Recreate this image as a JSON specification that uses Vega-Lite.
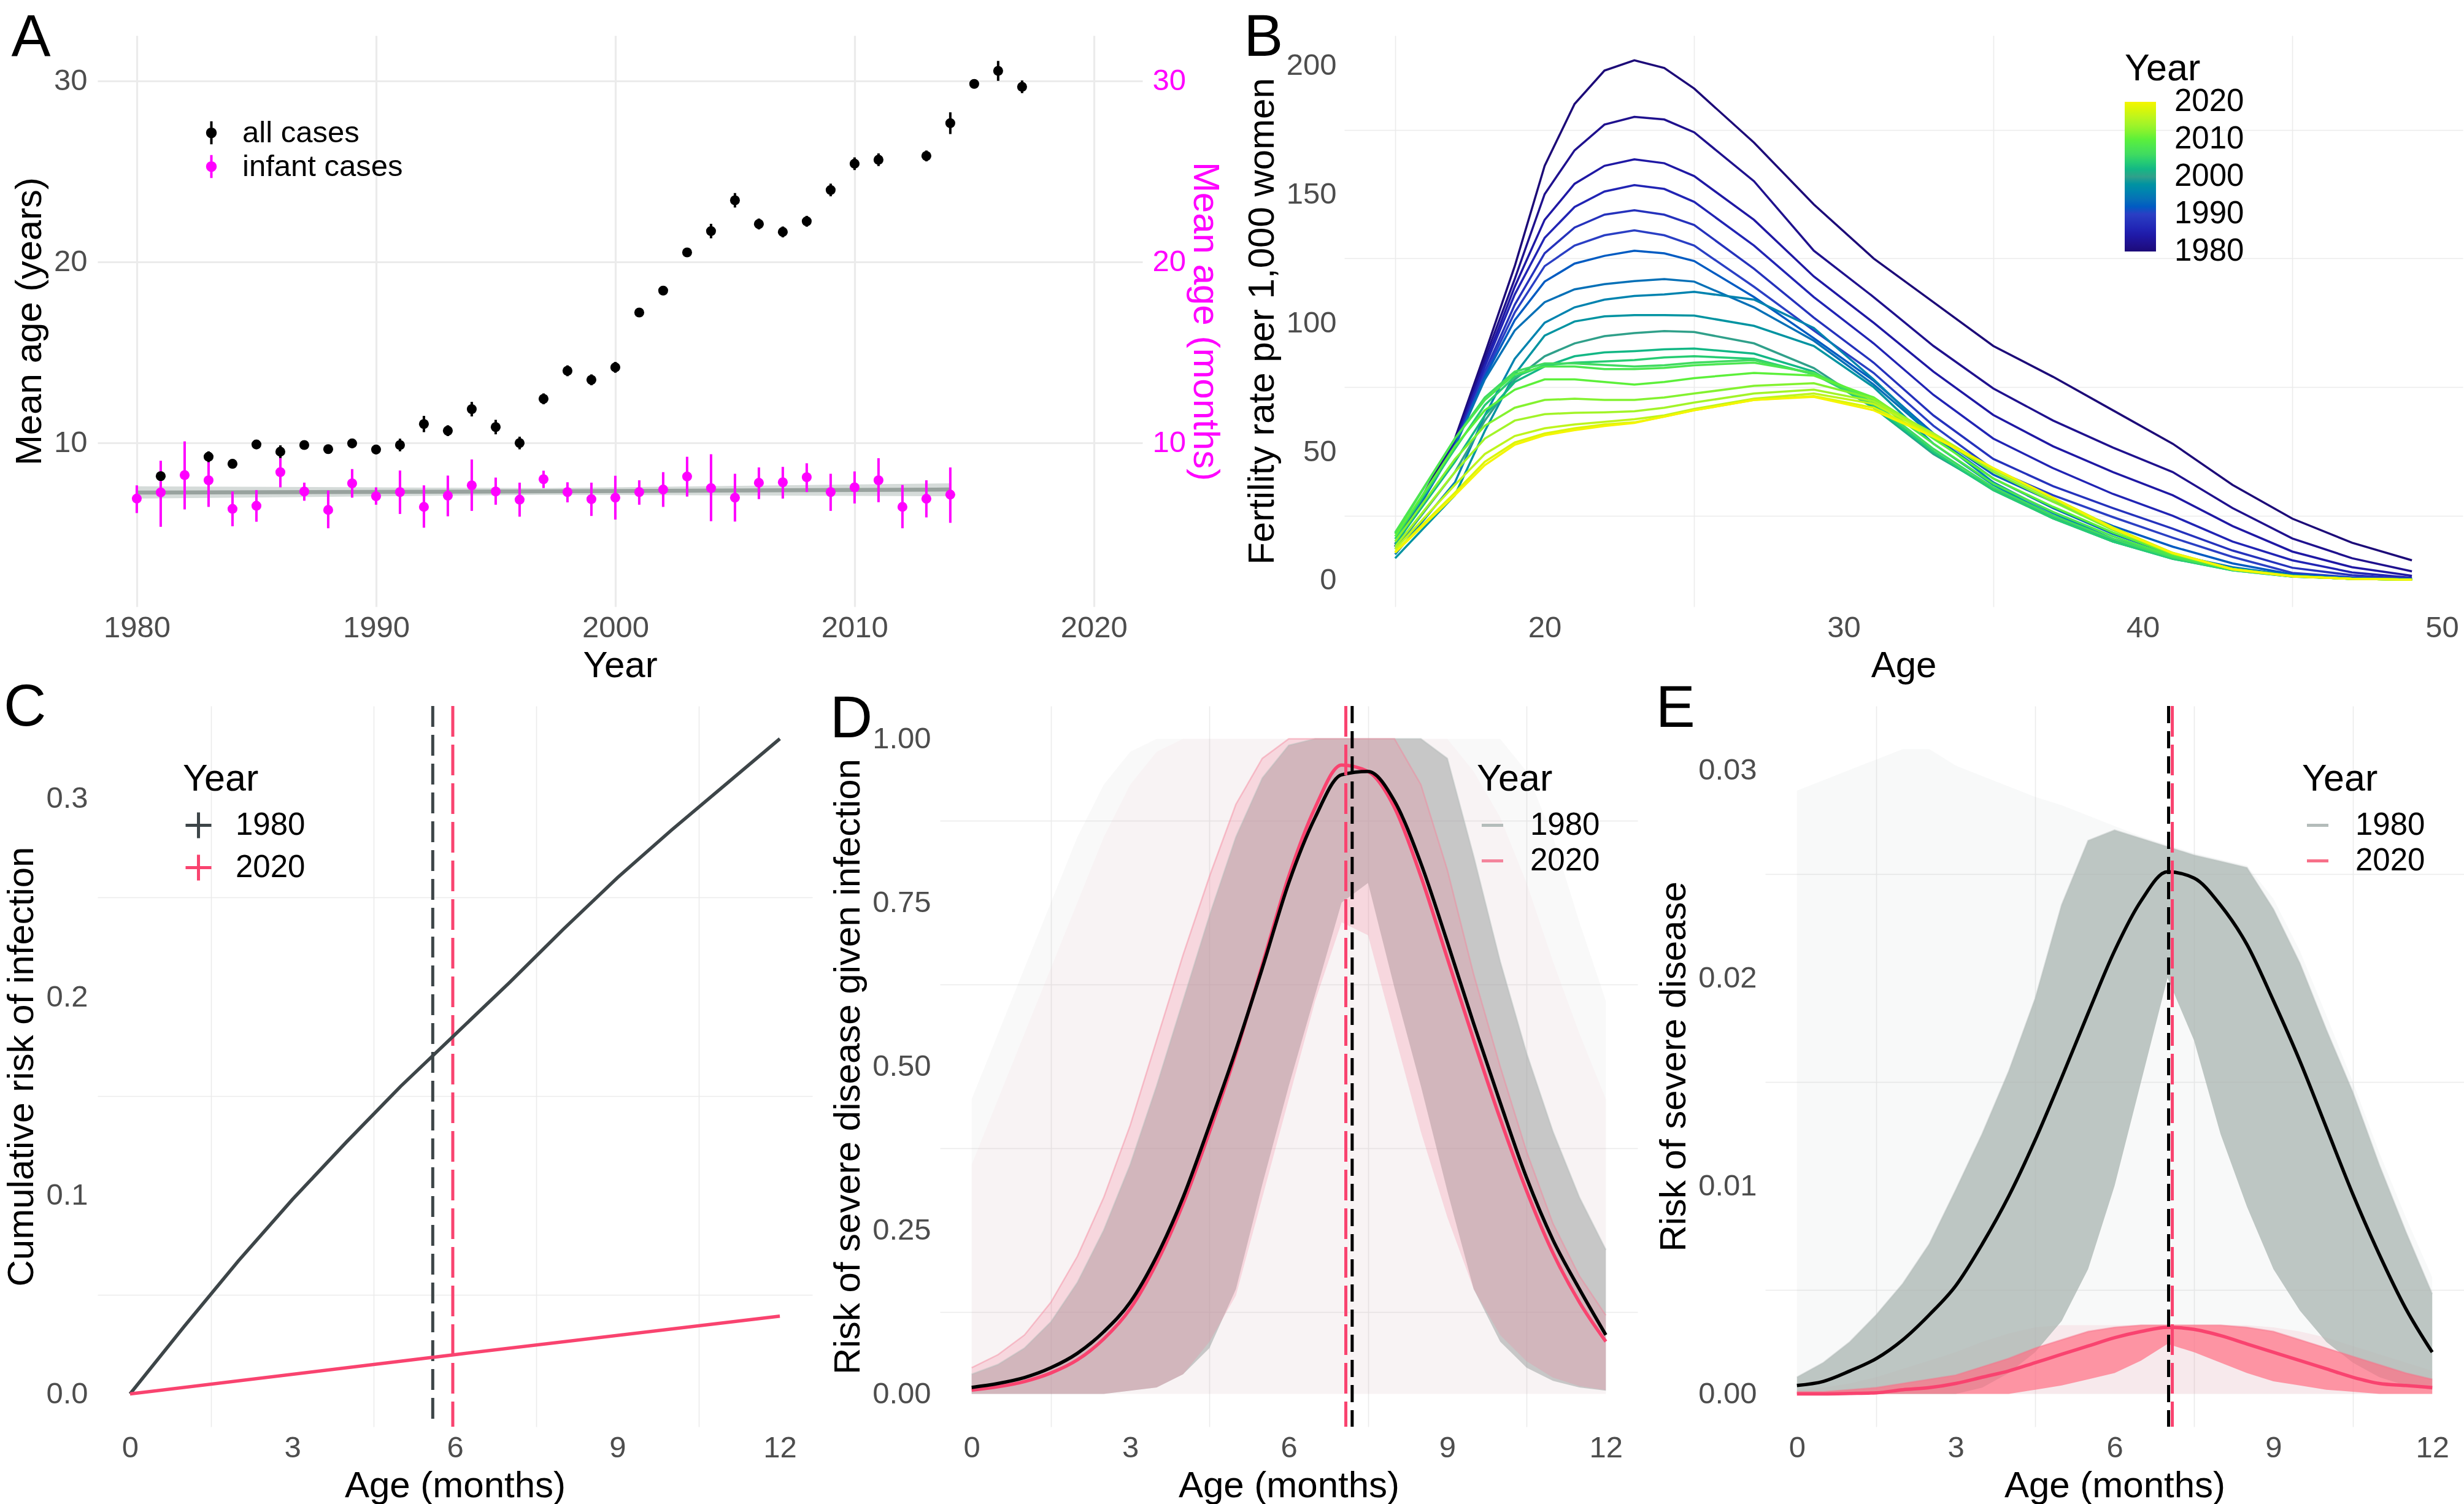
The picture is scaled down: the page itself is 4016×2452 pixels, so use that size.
{
"$schema":"https://vega.github.io/schema/vega-lite/v6.json",
"background":"white",
"padding":{"left":5,"top":14,"right":0,"bottom":0},
"config":{
 "font":"Liberation Sans",
 "view":{"stroke":null},
 "axis":{"domain":false,"ticks":false,"labelFontSize":49,"labelColor":"#4D4D4D","labelFont":"Liberation Sans","titleFontSize":60,"titleFontWeight":"normal","titleColor":"#000000","titleFont":"Liberation Sans","gridColor":"#EBEBEB","gridWidth":3.2,"labelPadding":12,"titlePadding":8,"labelFlush":false,"labelOverlap":false},
 "legend":{"labelFontSize":51,"titleFontSize":61,"titleFontWeight":"normal","labelColor":"#000000","titleColor":"#000000","labelFont":"Liberation Sans","titleFont":"Liberation Sans","labelLimit":800,"labelOverlap":false},
 "title":{"fontSize":96,"fontWeight":"normal","font":"Liberation Sans","anchor":"start","frame":"bounds","color":"#000000","offset":0,"baseline":"alphabetic"}
},
"datasets":{
 "ageA":[
  {"yr":1980,"s":"infant cases","v":6.92,"lo":6.12,"hi":7.65},
  {"yr":1981,"s":"infant cases","v":7.26,"lo":5.36,"hi":9.01},
  {"yr":1982,"s":"infant cases","v":8.22,"lo":6.32,"hi":10.08},
  {"yr":1983,"s":"infant cases","v":7.93,"lo":6.46,"hi":9.5},
  {"yr":1984,"s":"infant cases","v":6.35,"lo":5.39,"hi":7.31},
  {"yr":1985,"s":"infant cases","v":6.52,"lo":5.64,"hi":7.39},
  {"yr":1986,"s":"infant cases","v":8.38,"lo":7.54,"hi":9.29},
  {"yr":1987,"s":"infant cases","v":7.31,"lo":6.8,"hi":7.8},
  {"yr":1988,"s":"infant cases","v":6.29,"lo":5.28,"hi":7.37},
  {"yr":1989,"s":"infant cases","v":7.76,"lo":6.97,"hi":8.55},
  {"yr":1990,"s":"infant cases","v":7.05,"lo":6.58,"hi":7.54},
  {"yr":1991,"s":"infant cases","v":7.28,"lo":6.07,"hi":8.47},
  {"yr":1992,"s":"infant cases","v":6.46,"lo":5.31,"hi":7.65},
  {"yr":1993,"s":"infant cases","v":7.08,"lo":5.94,"hi":8.19},
  {"yr":1994,"s":"infant cases","v":7.65,"lo":6.24,"hi":9.08},
  {"yr":1995,"s":"infant cases","v":7.31,"lo":6.58,"hi":8.08},
  {"yr":1996,"s":"infant cases","v":6.86,"lo":5.92,"hi":7.8},
  {"yr":1997,"s":"infant cases","v":7.99,"lo":7.5,"hi":8.46},
  {"yr":1998,"s":"infant cases","v":7.28,"lo":6.71,"hi":7.82},
  {"yr":1999,"s":"infant cases","v":6.89,"lo":5.96,"hi":7.8},
  {"yr":2000,"s":"infant cases","v":6.97,"lo":5.76,"hi":8.18},
  {"yr":2001,"s":"infant cases","v":7.28,"lo":6.58,"hi":7.93},
  {"yr":2002,"s":"infant cases","v":7.42,"lo":6.46,"hi":8.38},
  {"yr":2003,"s":"infant cases","v":8.14,"lo":7.03,"hi":9.23},
  {"yr":2004,"s":"infant cases","v":7.5,"lo":5.67,"hi":9.37},
  {"yr":2005,"s":"infant cases","v":6.97,"lo":5.65,"hi":8.29},
  {"yr":2006,"s":"infant cases","v":7.79,"lo":6.89,"hi":8.64},
  {"yr":2007,"s":"infant cases","v":7.82,"lo":6.92,"hi":8.67},
  {"yr":2008,"s":"infant cases","v":8.1,"lo":7.28,"hi":8.87},
  {"yr":2009,"s":"infant cases","v":7.28,"lo":6.24,"hi":8.29},
  {"yr":2010,"s":"infant cases","v":7.54,"lo":6.65,"hi":8.42},
  {"yr":2011,"s":"infant cases","v":7.93,"lo":6.72,"hi":9.15},
  {"yr":2012,"s":"infant cases","v":6.46,"lo":5.28,"hi":7.67},
  {"yr":2013,"s":"infant cases","v":6.91,"lo":5.88,"hi":7.93},
  {"yr":2014,"s":"infant cases","v":7.14,"lo":5.58,"hi":8.64},
  {"yr":1981,"s":"all cases","v":8.16,"lo":7.91,"hi":8.41},
  {"yr":1983,"s":"all cases","v":9.23,"lo":8.93,"hi":9.53},
  {"yr":1984,"s":"all cases","v":8.84,"lo":8.59,"hi":9.09},
  {"yr":1985,"s":"all cases","v":9.91,"lo":9.66,"hi":10.16},
  {"yr":1986,"s":"all cases","v":9.51,"lo":9.16,"hi":9.86},
  {"yr":1987,"s":"all cases","v":9.88,"lo":9.63,"hi":10.13},
  {"yr":1988,"s":"all cases","v":9.65,"lo":9.4,"hi":9.9},
  {"yr":1989,"s":"all cases","v":9.97,"lo":9.72,"hi":10.22},
  {"yr":1990,"s":"all cases","v":9.63,"lo":9.38,"hi":9.88},
  {"yr":1991,"s":"all cases","v":9.88,"lo":9.53,"hi":10.23},
  {"yr":1992,"s":"all cases","v":11.04,"lo":10.59,"hi":11.49},
  {"yr":1993,"s":"all cases","v":10.67,"lo":10.37,"hi":10.97},
  {"yr":1994,"s":"all cases","v":11.86,"lo":11.46,"hi":12.26},
  {"yr":1995,"s":"all cases","v":10.87,"lo":10.47,"hi":11.27},
  {"yr":1996,"s":"all cases","v":9.99,"lo":9.64,"hi":10.34},
  {"yr":1997,"s":"all cases","v":12.43,"lo":12.13,"hi":12.73},
  {"yr":1998,"s":"all cases","v":13.98,"lo":13.68,"hi":14.28},
  {"yr":1999,"s":"all cases","v":13.48,"lo":13.18,"hi":13.78},
  {"yr":2000,"s":"all cases","v":14.17,"lo":13.87,"hi":14.47},
  {"yr":2001,"s":"all cases","v":17.2,"lo":17.0,"hi":17.4},
  {"yr":2002,"s":"all cases","v":18.41,"lo":18.16,"hi":18.66},
  {"yr":2003,"s":"all cases","v":20.52,"lo":20.27,"hi":20.77},
  {"yr":2004,"s":"all cases","v":21.7,"lo":21.3,"hi":22.1},
  {"yr":2005,"s":"all cases","v":23.4,"lo":23.0,"hi":23.8},
  {"yr":2006,"s":"all cases","v":22.09,"lo":21.79,"hi":22.39},
  {"yr":2007,"s":"all cases","v":21.65,"lo":21.35,"hi":21.95},
  {"yr":2008,"s":"all cases","v":22.24,"lo":21.94,"hi":22.54},
  {"yr":2009,"s":"all cases","v":23.97,"lo":23.62,"hi":24.32},
  {"yr":2010,"s":"all cases","v":25.42,"lo":25.07,"hi":25.77},
  {"yr":2011,"s":"all cases","v":25.64,"lo":25.29,"hi":25.99},
  {"yr":2013,"s":"all cases","v":25.85,"lo":25.55,"hi":26.15},
  {"yr":2014,"s":"all cases","v":27.66,"lo":27.06,"hi":28.26},
  {"yr":2015,"s":"all cases","v":29.83,"lo":29.58,"hi":30.08},
  {"yr":2016,"s":"all cases","v":30.55,"lo":30.0,"hi":31.1},
  {"yr":2017,"s":"all cases","v":29.67,"lo":29.32,"hi":30.02}
 ],
 "ribbon":[
  {"yr":1980,"lo":6.92,"hi":7.6,"m":7.25},
  {"yr":1997,"lo":7.13,"hi":7.5,"m":7.32},
  {"yr":2014,"lo":7.05,"hi":7.76,"m":7.42}
 ],
 "fert":[
  {"yr":1980,"a":15,"f":14},{"yr":1980,"a":17,"f":55},{"yr":1980,"a":18,"f":88},{"yr":1980,"a":19,"f":122},{"yr":1980,"a":20,"f":161},{"yr":1980,"a":21,"f":185},{"yr":1980,"a":22,"f":198},{"yr":1980,"a":23,"f":202},{"yr":1980,"a":24,"f":199},{"yr":1980,"a":25,"f":191},{"yr":1980,"a":27,"f":170},{"yr":1980,"a":29,"f":146},{"yr":1980,"a":31,"f":125},{"yr":1980,"a":33,"f":108},{"yr":1980,"a":35,"f":91},{"yr":1980,"a":37,"f":79},{"yr":1980,"a":39,"f":66},{"yr":1980,"a":41,"f":53},{"yr":1980,"a":43,"f":37},{"yr":1980,"a":45,"f":23.9},{"yr":1980,"a":47,"f":14.5},{"yr":1980,"a":49,"f":7.7},
  {"yr":1982,"a":15,"f":13},{"yr":1982,"a":17,"f":54},{"yr":1982,"a":18,"f":86},{"yr":1982,"a":19,"f":117},{"yr":1982,"a":20,"f":150},{"yr":1982,"a":21,"f":167},{"yr":1982,"a":22,"f":177},{"yr":1982,"a":23,"f":180},{"yr":1982,"a":24,"f":179},{"yr":1982,"a":25,"f":174},{"yr":1982,"a":27,"f":155},{"yr":1982,"a":29,"f":128},{"yr":1982,"a":31,"f":110},{"yr":1982,"a":33,"f":91},{"yr":1982,"a":35,"f":74.5},{"yr":1982,"a":37,"f":62},{"yr":1982,"a":39,"f":51.5},{"yr":1982,"a":41,"f":42},{"yr":1982,"a":43,"f":28},{"yr":1982,"a":45,"f":16.2},{"yr":1982,"a":47,"f":8.5},{"yr":1982,"a":49,"f":3.4},
  {"yr":1984,"a":15,"f":13},{"yr":1984,"a":17,"f":53},{"yr":1984,"a":18,"f":84},{"yr":1984,"a":19,"f":114},{"yr":1984,"a":20,"f":140},{"yr":1984,"a":21,"f":154},{"yr":1984,"a":22,"f":161},{"yr":1984,"a":23,"f":163.5},{"yr":1984,"a":24,"f":162},{"yr":1984,"a":25,"f":157},{"yr":1984,"a":27,"f":140},{"yr":1984,"a":29,"f":118},{"yr":1984,"a":31,"f":100},{"yr":1984,"a":33,"f":81},{"yr":1984,"a":35,"f":64.2},{"yr":1984,"a":37,"f":52},{"yr":1984,"a":39,"f":42},{"yr":1984,"a":41,"f":33},{"yr":1984,"a":43,"f":21},{"yr":1984,"a":45,"f":11.1},{"yr":1984,"a":47,"f":5},{"yr":1984,"a":49,"f":1.7},
  {"yr":1986,"a":15,"f":13},{"yr":1986,"a":17,"f":53},{"yr":1986,"a":18,"f":83},{"yr":1986,"a":19,"f":111},{"yr":1986,"a":20,"f":133},{"yr":1986,"a":21,"f":145},{"yr":1986,"a":22,"f":151},{"yr":1986,"a":23,"f":153.5},{"yr":1986,"a":24,"f":152},{"yr":1986,"a":25,"f":147},{"yr":1986,"a":27,"f":130},{"yr":1986,"a":29,"f":110},{"yr":1986,"a":31,"f":92},{"yr":1986,"a":33,"f":72},{"yr":1986,"a":35,"f":55},{"yr":1986,"a":37,"f":43.5},{"yr":1986,"a":39,"f":33.5},{"yr":1986,"a":41,"f":25},{"yr":1986,"a":43,"f":15},{"yr":1986,"a":45,"f":7.7},{"yr":1986,"a":47,"f":3},{"yr":1986,"a":49,"f":0.9},
  {"yr":1988,"a":15,"f":13},{"yr":1988,"a":17,"f":52},{"yr":1988,"a":18,"f":81},{"yr":1988,"a":19,"f":107},{"yr":1988,"a":20,"f":127},{"yr":1988,"a":21,"f":137},{"yr":1988,"a":22,"f":142},{"yr":1988,"a":23,"f":143.7},{"yr":1988,"a":24,"f":142},{"yr":1988,"a":25,"f":138},{"yr":1988,"a":27,"f":121},{"yr":1988,"a":29,"f":102},{"yr":1988,"a":31,"f":84.5},{"yr":1988,"a":33,"f":64},{"yr":1988,"a":35,"f":47.1},{"yr":1988,"a":37,"f":36.5},{"yr":1988,"a":39,"f":28},{"yr":1988,"a":41,"f":20},{"yr":1988,"a":43,"f":11.5},{"yr":1988,"a":45,"f":4.8},{"yr":1988,"a":47,"f":1.9},{"yr":1988,"a":49,"f":0.5},
  {"yr":1990,"a":15,"f":13},{"yr":1990,"a":17,"f":52},{"yr":1990,"a":18,"f":80},{"yr":1990,"a":19,"f":104},{"yr":1990,"a":20,"f":122},{"yr":1990,"a":21,"f":130},{"yr":1990,"a":22,"f":134},{"yr":1990,"a":23,"f":135.9},{"yr":1990,"a":24,"f":134},{"yr":1990,"a":25,"f":130},{"yr":1990,"a":27,"f":114},{"yr":1990,"a":29,"f":97},{"yr":1990,"a":31,"f":80.5},{"yr":1990,"a":33,"f":60},{"yr":1990,"a":35,"f":43},{"yr":1990,"a":37,"f":33},{"yr":1990,"a":39,"f":24.5},{"yr":1990,"a":41,"f":16.5},{"yr":1990,"a":43,"f":9},{"yr":1990,"a":45,"f":2.8},{"yr":1990,"a":47,"f":1.1},{"yr":1990,"a":49,"f":0.3},
  {"yr":1992,"a":15,"f":13},{"yr":1992,"a":17,"f":52},{"yr":1992,"a":18,"f":79},{"yr":1992,"a":19,"f":101},{"yr":1992,"a":20,"f":116},{"yr":1992,"a":21,"f":123},{"yr":1992,"a":22,"f":126},{"yr":1992,"a":23,"f":128},{"yr":1992,"a":24,"f":127},{"yr":1992,"a":25,"f":124},{"yr":1992,"a":27,"f":110},{"yr":1992,"a":29,"f":94},{"yr":1992,"a":31,"f":77.5},{"yr":1992,"a":33,"f":57},{"yr":1992,"a":35,"f":41},{"yr":1992,"a":37,"f":30.5},{"yr":1992,"a":39,"f":21},{"yr":1992,"a":41,"f":13},{"yr":1992,"a":43,"f":6.5},{"yr":1992,"a":45,"f":2.2},{"yr":1992,"a":47,"f":0.8},{"yr":1992,"a":49,"f":0.3},
  {"yr":1994,"a":15,"f":13},{"yr":1994,"a":17,"f":52},{"yr":1994,"a":18,"f":78},{"yr":1994,"a":19,"f":97},{"yr":1994,"a":20,"f":108},{"yr":1994,"a":21,"f":113},{"yr":1994,"a":22,"f":115},{"yr":1994,"a":23,"f":116.2},{"yr":1994,"a":24,"f":117},{"yr":1994,"a":25,"f":116},{"yr":1994,"a":27,"f":106},{"yr":1994,"a":29,"f":93},{"yr":1994,"a":31,"f":76},{"yr":1994,"a":33,"f":56},{"yr":1994,"a":35,"f":39.5},{"yr":1994,"a":37,"f":28},{"yr":1994,"a":39,"f":18},{"yr":1994,"a":41,"f":10},{"yr":1994,"a":43,"f":5},{"yr":1994,"a":45,"f":1.8},{"yr":1994,"a":47,"f":0.6},{"yr":1994,"a":49,"f":0.3},
  {"yr":1996,"a":15,"f":10},{"yr":1996,"a":17,"f":38},{"yr":1996,"a":18,"f":64},{"yr":1996,"a":19,"f":86},{"yr":1996,"a":20,"f":100},{"yr":1996,"a":21,"f":106},{"yr":1996,"a":22,"f":109},{"yr":1996,"a":23,"f":110.4},{"yr":1996,"a":24,"f":111},{"yr":1996,"a":25,"f":112},{"yr":1996,"a":27,"f":109},{"yr":1996,"a":29,"f":98},{"yr":1996,"a":31,"f":78},{"yr":1996,"a":33,"f":56},{"yr":1996,"a":35,"f":38},{"yr":1996,"a":37,"f":26},{"yr":1996,"a":39,"f":16},{"yr":1996,"a":41,"f":9.5},{"yr":1996,"a":43,"f":4.8},{"yr":1996,"a":45,"f":1.8},{"yr":1996,"a":47,"f":0.6},{"yr":1996,"a":49,"f":0.3},
  {"yr":1998,"a":15,"f":8.5},{"yr":1998,"a":17,"f":33},{"yr":1998,"a":18,"f":58},{"yr":1998,"a":19,"f":80},{"yr":1998,"a":20,"f":95},{"yr":1998,"a":21,"f":100.5},{"yr":1998,"a":22,"f":102.5},{"yr":1998,"a":23,"f":103},{"yr":1998,"a":24,"f":103},{"yr":1998,"a":25,"f":102.8},{"yr":1998,"a":27,"f":98.8},{"yr":1998,"a":29,"f":91},{"yr":1998,"a":31,"f":75},{"yr":1998,"a":33,"f":53},{"yr":1998,"a":35,"f":37},{"yr":1998,"a":37,"f":25},{"yr":1998,"a":39,"f":15.5},{"yr":1998,"a":41,"f":9},{"yr":1998,"a":43,"f":4.5},{"yr":1998,"a":45,"f":1.7},{"yr":1998,"a":47,"f":0.6},{"yr":1998,"a":49,"f":0.3},
  {"yr":2000,"a":15,"f":12},{"yr":2000,"a":17,"f":42},{"yr":2000,"a":18,"f":62},{"yr":2000,"a":19,"f":78},{"yr":2000,"a":20,"f":87},{"yr":2000,"a":21,"f":92},{"yr":2000,"a":22,"f":94.8},{"yr":2000,"a":23,"f":96},{"yr":2000,"a":24,"f":96.8},{"yr":2000,"a":25,"f":96.4},{"yr":2000,"a":27,"f":92},{"yr":2000,"a":29,"f":82.4},{"yr":2000,"a":31,"f":67},{"yr":2000,"a":33,"f":49},{"yr":2000,"a":35,"f":35.5},{"yr":2000,"a":37,"f":24.5},{"yr":2000,"a":39,"f":15},{"yr":2000,"a":41,"f":8.5},{"yr":2000,"a":43,"f":4},{"yr":2000,"a":45,"f":1.5},{"yr":2000,"a":47,"f":0.5},{"yr":2000,"a":49,"f":0.2},
  {"yr":2002,"a":15,"f":14},{"yr":2002,"a":17,"f":46},{"yr":2002,"a":18,"f":64},{"yr":2002,"a":19,"f":77},{"yr":2002,"a":20,"f":83},{"yr":2002,"a":21,"f":87},{"yr":2002,"a":22,"f":88.5},{"yr":2002,"a":23,"f":89},{"yr":2002,"a":24,"f":89.7},{"yr":2002,"a":25,"f":90},{"yr":2002,"a":27,"f":88},{"yr":2002,"a":29,"f":81},{"yr":2002,"a":31,"f":67},{"yr":2002,"a":33,"f":49.5},{"yr":2002,"a":35,"f":35},{"yr":2002,"a":37,"f":24},{"yr":2002,"a":39,"f":15},{"yr":2002,"a":41,"f":8.3},{"yr":2002,"a":43,"f":3.8},{"yr":2002,"a":45,"f":1.4},{"yr":2002,"a":47,"f":0.5},{"yr":2002,"a":49,"f":0.2},
  {"yr":2004,"a":15,"f":16},{"yr":2004,"a":17,"f":51},{"yr":2004,"a":18,"f":68},{"yr":2004,"a":19,"f":79},{"yr":2004,"a":20,"f":83.5},{"yr":2004,"a":21,"f":84.5},{"yr":2004,"a":22,"f":85},{"yr":2004,"a":23,"f":85.5},{"yr":2004,"a":24,"f":86.5},{"yr":2004,"a":25,"f":87},{"yr":2004,"a":27,"f":86},{"yr":2004,"a":29,"f":80},{"yr":2004,"a":31,"f":68},{"yr":2004,"a":33,"f":50},{"yr":2004,"a":35,"f":35},{"yr":2004,"a":37,"f":24},{"yr":2004,"a":39,"f":15},{"yr":2004,"a":41,"f":8.3},{"yr":2004,"a":43,"f":3.8},{"yr":2004,"a":45,"f":1.4},{"yr":2004,"a":47,"f":0.5},{"yr":2004,"a":49,"f":0.2},
  {"yr":2006,"a":15,"f":18},{"yr":2006,"a":17,"f":55},{"yr":2006,"a":18,"f":71},{"yr":2006,"a":19,"f":81},{"yr":2006,"a":20,"f":84.2},{"yr":2006,"a":21,"f":84.2},{"yr":2006,"a":22,"f":83.6},{"yr":2006,"a":23,"f":83},{"yr":2006,"a":24,"f":83.5},{"yr":2006,"a":25,"f":84.5},{"yr":2006,"a":27,"f":85.5},{"yr":2006,"a":29,"f":80},{"yr":2006,"a":31,"f":69},{"yr":2006,"a":33,"f":51},{"yr":2006,"a":35,"f":36},{"yr":2006,"a":37,"f":25},{"yr":2006,"a":39,"f":16},{"yr":2006,"a":41,"f":8.8},{"yr":2006,"a":43,"f":4},{"yr":2006,"a":45,"f":1.5},{"yr":2006,"a":47,"f":0.5},{"yr":2006,"a":49,"f":0.2},
  {"yr":2008,"a":15,"f":18.5},{"yr":2008,"a":17,"f":55},{"yr":2008,"a":18,"f":70},{"yr":2008,"a":19,"f":80},{"yr":2008,"a":20,"f":83},{"yr":2008,"a":21,"f":83},{"yr":2008,"a":22,"f":82},{"yr":2008,"a":23,"f":82},{"yr":2008,"a":24,"f":82.5},{"yr":2008,"a":25,"f":83.5},{"yr":2008,"a":27,"f":84.5},{"yr":2008,"a":29,"f":80.5},{"yr":2008,"a":31,"f":70},{"yr":2008,"a":33,"f":53},{"yr":2008,"a":35,"f":37.5},{"yr":2008,"a":37,"f":26.5},{"yr":2008,"a":39,"f":17},{"yr":2008,"a":41,"f":9.3},{"yr":2008,"a":43,"f":4.1},{"yr":2008,"a":45,"f":1.5},{"yr":2008,"a":47,"f":0.5},{"yr":2008,"a":49,"f":0.2},
  {"yr":2010,"a":15,"f":17},{"yr":2010,"a":17,"f":52},{"yr":2010,"a":18,"f":66},{"yr":2010,"a":19,"f":74},{"yr":2010,"a":20,"f":78},{"yr":2010,"a":21,"f":78},{"yr":2010,"a":22,"f":77},{"yr":2010,"a":23,"f":76},{"yr":2010,"a":24,"f":77},{"yr":2010,"a":25,"f":78.5},{"yr":2010,"a":27,"f":80.5},{"yr":2010,"a":29,"f":79.5},{"yr":2010,"a":31,"f":71},{"yr":2010,"a":33,"f":55},{"yr":2010,"a":35,"f":39.5},{"yr":2010,"a":37,"f":28.5},{"yr":2010,"a":39,"f":18.5},{"yr":2010,"a":41,"f":10},{"yr":2010,"a":43,"f":4.3},{"yr":2010,"a":45,"f":1.6},{"yr":2010,"a":47,"f":0.5},{"yr":2010,"a":49,"f":0.2},
  {"yr":2012,"a":15,"f":15},{"yr":2012,"a":17,"f":47},{"yr":2012,"a":18,"f":60},{"yr":2012,"a":19,"f":67},{"yr":2012,"a":20,"f":70},{"yr":2012,"a":21,"f":70.5},{"yr":2012,"a":22,"f":70},{"yr":2012,"a":23,"f":70},{"yr":2012,"a":24,"f":71},{"yr":2012,"a":25,"f":72.5},{"yr":2012,"a":27,"f":75.5},{"yr":2012,"a":29,"f":76.5},{"yr":2012,"a":31,"f":70.5},{"yr":2012,"a":33,"f":56.5},{"yr":2012,"a":35,"f":42},{"yr":2012,"a":37,"f":30.5},{"yr":2012,"a":39,"f":19.5},{"yr":2012,"a":41,"f":10.3},{"yr":2012,"a":43,"f":4.3},{"yr":2012,"a":45,"f":1.6},{"yr":2012,"a":47,"f":0.5},{"yr":2012,"a":49,"f":0.2},
  {"yr":2014,"a":15,"f":13},{"yr":2014,"a":17,"f":42},{"yr":2014,"a":18,"f":55},{"yr":2014,"a":19,"f":62},{"yr":2014,"a":20,"f":64.5},{"yr":2014,"a":21,"f":65},{"yr":2014,"a":22,"f":65.2},{"yr":2014,"a":23,"f":65.6},{"yr":2014,"a":24,"f":67},{"yr":2014,"a":25,"f":69},{"yr":2014,"a":27,"f":72.5},{"yr":2014,"a":29,"f":74},{"yr":2014,"a":31,"f":69.5},{"yr":2014,"a":33,"f":57},{"yr":2014,"a":35,"f":43},{"yr":2014,"a":37,"f":31.5},{"yr":2014,"a":39,"f":20},{"yr":2014,"a":41,"f":10.5},{"yr":2014,"a":43,"f":4.3},{"yr":2014,"a":45,"f":1.5},{"yr":2014,"a":47,"f":0.5},{"yr":2014,"a":49,"f":0.2},
  {"yr":2016,"a":15,"f":12},{"yr":2016,"a":17,"f":37},{"yr":2016,"a":18,"f":49},{"yr":2016,"a":19,"f":56},{"yr":2016,"a":20,"f":59},{"yr":2016,"a":21,"f":60.5},{"yr":2016,"a":22,"f":61.5},{"yr":2016,"a":23,"f":62.5},{"yr":2016,"a":24,"f":64},{"yr":2016,"a":25,"f":66.5},{"yr":2016,"a":27,"f":70.5},{"yr":2016,"a":29,"f":72.5},{"yr":2016,"a":31,"f":68.5},{"yr":2016,"a":33,"f":56.5},{"yr":2016,"a":35,"f":43.5},{"yr":2016,"a":37,"f":32},{"yr":2016,"a":39,"f":20.5},{"yr":2016,"a":41,"f":10.6},{"yr":2016,"a":43,"f":4.3},{"yr":2016,"a":45,"f":1.5},{"yr":2016,"a":47,"f":0.5},{"yr":2016,"a":49,"f":0.2},
  {"yr":2018,"a":15,"f":11},{"yr":2018,"a":17,"f":34},{"yr":2018,"a":18,"f":46},{"yr":2018,"a":19,"f":53.5},{"yr":2018,"a":20,"f":57},{"yr":2018,"a":21,"f":59},{"yr":2018,"a":22,"f":60.5},{"yr":2018,"a":23,"f":61.3},{"yr":2018,"a":24,"f":63.5},{"yr":2018,"a":25,"f":66},{"yr":2018,"a":27,"f":70},{"yr":2018,"a":29,"f":71.5},{"yr":2018,"a":31,"f":67},{"yr":2018,"a":33,"f":56},{"yr":2018,"a":35,"f":43.5},{"yr":2018,"a":37,"f":32},{"yr":2018,"a":39,"f":20.3},{"yr":2018,"a":41,"f":10.5},{"yr":2018,"a":43,"f":4.2},{"yr":2018,"a":45,"f":1.5},{"yr":2018,"a":47,"f":0.5},{"yr":2018,"a":49,"f":0.2},
  {"yr":2020,"a":15,"f":10.7},{"yr":2020,"a":17,"f":33},{"yr":2020,"a":18,"f":44.7},{"yr":2020,"a":19,"f":52.6},{"yr":2020,"a":20,"f":56.3},{"yr":2020,"a":21,"f":58.3},{"yr":2020,"a":22,"f":59.9},{"yr":2020,"a":23,"f":61.1},{"yr":2020,"a":24,"f":63.6},{"yr":2020,"a":25,"f":66},{"yr":2020,"a":27,"f":70},{"yr":2020,"a":29,"f":71.2},{"yr":2020,"a":31,"f":66},{"yr":2020,"a":33,"f":55.7},{"yr":2020,"a":35,"f":43.5},{"yr":2020,"a":37,"f":32},{"yr":2020,"a":39,"f":20},{"yr":2020,"a":41,"f":10.5},{"yr":2020,"a":43,"f":4.2},{"yr":2020,"a":45,"f":1.5},{"yr":2020,"a":47,"f":0.5},{"yr":2020,"a":49,"f":0.2}
 ],
 "cC":[
  {"a":0,"yr":"1980","v":0},{"a":1,"yr":"1980","v":0.034},{"a":2,"yr":"1980","v":0.067},{"a":3,"yr":"1980","v":0.098},{"a":4,"yr":"1980","v":0.127},{"a":5,"yr":"1980","v":0.155},{"a":6,"yr":"1980","v":0.181},{"a":7,"yr":"1980","v":0.207},{"a":8,"yr":"1980","v":0.234},{"a":9,"yr":"1980","v":0.26},{"a":10,"yr":"1980","v":0.284},{"a":11,"yr":"1980","v":0.307},{"a":12,"yr":"1980","v":0.33},
  {"a":0,"yr":"2020","v":0},{"a":6,"yr":"2020","v":0.0198},{"a":12,"yr":"2020","v":0.0392}
 ],
 "dD":[
  {"a":0,"yr":"1980","fhi":0.45,"lo":0,"hi":0.03,"m":0.01},
  {"a":0.5,"yr":"1980","fhi":0.55,"lo":0,"hi":0.045,"m":0.016},
  {"a":1,"yr":"1980","fhi":0.65,"lo":0,"hi":0.07,"m":0.025},
  {"a":1.5,"yr":"1980","fhi":0.75,"lo":0,"hi":0.11,"m":0.04},
  {"a":2,"yr":"1980","fhi":0.85,"lo":0,"hi":0.17,"m":0.062},
  {"a":2.5,"yr":"1980","fhi":0.93,"lo":0,"hi":0.25,"m":0.095},
  {"a":3,"yr":"1980","fhi":0.98,"lo":0.005,"hi":0.35,"m":0.14},
  {"a":3.5,"yr":"1980","fhi":1,"lo":0.01,"hi":0.47,"m":0.21},
  {"a":4,"yr":"1980","fhi":1,"lo":0.03,"hi":0.6,"m":0.3},
  {"a":4.5,"yr":"1980","fhi":1,"lo":0.07,"hi":0.73,"m":0.41},
  {"a":5,"yr":"1980","fhi":1,"lo":0.16,"hi":0.85,"m":0.525},
  {"a":5.5,"yr":"1980","fhi":1,"lo":0.32,"hi":0.94,"m":0.65},
  {"a":6,"yr":"1980","fhi":1,"lo":0.47,"hi":0.99,"m":0.78},
  {"a":6.5,"yr":"1980","fhi":1,"lo":0.61,"hi":1,"m":0.88},
  {"a":7,"yr":"1980","fhi":1,"lo":0.75,"hi":1,"m":0.945},
  {"a":7.5,"yr":"1980","fhi":1,"lo":0.78,"hi":1,"m":0.95},
  {"a":8,"yr":"1980","fhi":1,"lo":0.62,"hi":1,"m":0.905},
  {"a":8.5,"yr":"1980","fhi":1,"lo":0.47,"hi":1,"m":0.81},
  {"a":9,"yr":"1980","fhi":1,"lo":0.31,"hi":0.97,"m":0.69},
  {"a":9.5,"yr":"1980","fhi":1,"lo":0.16,"hi":0.82,"m":0.565},
  {"a":10,"yr":"1980","fhi":1,"lo":0.08,"hi":0.66,"m":0.445},
  {"a":10.5,"yr":"1980","fhi":0.95,"lo":0.04,"hi":0.52,"m":0.33},
  {"a":11,"yr":"1980","fhi":0.85,"lo":0.02,"hi":0.4,"m":0.235},
  {"a":11.5,"yr":"1980","fhi":0.72,"lo":0.01,"hi":0.3,"m":0.16},
  {"a":12,"yr":"1980","fhi":0.6,"lo":0.005,"hi":0.22,"m":0.09},
  {"a":0,"yr":"2020","fhi":0.35,"lo":0,"hi":0.04,"m":0.006},
  {"a":0.5,"yr":"2020","fhi":0.45,"lo":0,"hi":0.06,"m":0.011},
  {"a":1,"yr":"2020","fhi":0.55,"lo":0,"hi":0.09,"m":0.019},
  {"a":1.5,"yr":"2020","fhi":0.65,"lo":0,"hi":0.14,"m":0.032},
  {"a":2,"yr":"2020","fhi":0.75,"lo":0,"hi":0.21,"m":0.052},
  {"a":2.5,"yr":"2020","fhi":0.85,"lo":0,"hi":0.3,"m":0.084},
  {"a":3,"yr":"2020","fhi":0.93,"lo":0.005,"hi":0.41,"m":0.13},
  {"a":3.5,"yr":"2020","fhi":0.98,"lo":0.01,"hi":0.54,"m":0.2},
  {"a":4,"yr":"2020","fhi":1,"lo":0.03,"hi":0.67,"m":0.29},
  {"a":4.5,"yr":"2020","fhi":1,"lo":0.08,"hi":0.79,"m":0.4},
  {"a":5,"yr":"2020","fhi":1,"lo":0.15,"hi":0.9,"m":0.52},
  {"a":5.5,"yr":"2020","fhi":1,"lo":0.3,"hi":0.97,"m":0.655},
  {"a":6,"yr":"2020","fhi":1,"lo":0.45,"hi":1,"m":0.79},
  {"a":6.5,"yr":"2020","fhi":1,"lo":0.6,"hi":1,"m":0.895},
  {"a":7,"yr":"2020","fhi":1,"lo":0.72,"hi":1,"m":0.96},
  {"a":7.5,"yr":"2020","fhi":1,"lo":0.7,"hi":1,"m":0.95},
  {"a":8,"yr":"2020","fhi":1,"lo":0.55,"hi":1,"m":0.895},
  {"a":8.5,"yr":"2020","fhi":1,"lo":0.4,"hi":0.93,"m":0.79},
  {"a":9,"yr":"2020","fhi":1,"lo":0.27,"hi":0.8,"m":0.665},
  {"a":9.5,"yr":"2020","fhi":0.95,"lo":0.16,"hi":0.64,"m":0.54},
  {"a":10,"yr":"2020","fhi":0.88,"lo":0.09,"hi":0.5,"m":0.42},
  {"a":10.5,"yr":"2020","fhi":0.78,"lo":0.05,"hi":0.37,"m":0.31},
  {"a":11,"yr":"2020","fhi":0.66,"lo":0.025,"hi":0.26,"m":0.215},
  {"a":11.5,"yr":"2020","fhi":0.55,"lo":0.012,"hi":0.18,"m":0.14},
  {"a":12,"yr":"2020","fhi":0.45,"lo":0.006,"hi":0.12,"m":0.08}
 ],
 "dE":[
  {"a":0,"yr":"1980","fhi":0.029,"lo":0,"hi":0.0008,"m":0.0004},
  {"a":0.5,"yr":"1980","fhi":0.0295,"lo":0,"hi":0.0015,"m":0.0006},
  {"a":1,"yr":"1980","fhi":0.03,"lo":0,"hi":0.0025,"m":0.0011},
  {"a":1.5,"yr":"1980","fhi":0.0305,"lo":0,"hi":0.0038,"m":0.0017},
  {"a":2,"yr":"1980","fhi":0.031,"lo":0,"hi":0.0053,"m":0.0026},
  {"a":2.5,"yr":"1980","fhi":0.031,"lo":0,"hi":0.0072,"m":0.0038},
  {"a":3,"yr":"1980","fhi":0.0302,"lo":0,"hi":0.0098,"m":0.0052},
  {"a":3.5,"yr":"1980","fhi":0.0297,"lo":0.0003,"hi":0.0125,"m":0.0072},
  {"a":4,"yr":"1980","fhi":0.0292,"lo":0.001,"hi":0.0155,"m":0.0095},
  {"a":4.5,"yr":"1980","fhi":0.0287,"lo":0.002,"hi":0.019,"m":0.0122},
  {"a":5,"yr":"1980","fhi":0.0283,"lo":0.0035,"hi":0.0235,"m":0.0152},
  {"a":5.5,"yr":"1980","fhi":0.0278,"lo":0.006,"hi":0.0266,"m":0.0183},
  {"a":6,"yr":"1980","fhi":0.0273,"lo":0.01,"hi":0.0271,"m":0.0213},
  {"a":6.5,"yr":"1980","fhi":0.0268,"lo":0.015,"hi":0.0267,"m":0.0237},
  {"a":7,"yr":"1980","fhi":0.0264,"lo":0.02,"hi":0.0263,"m":0.0251},
  {"a":7.5,"yr":"1980","fhi":0.026,"lo":0.017,"hi":0.0259,"m":0.0248},
  {"a":8,"yr":"1980","fhi":0.0257,"lo":0.0125,"hi":0.0256,"m":0.0235},
  {"a":8.5,"yr":"1980","fhi":0.0254,"lo":0.009,"hi":0.0253,"m":0.0216},
  {"a":9,"yr":"1980","fhi":0.0238,"lo":0.006,"hi":0.0233,"m":0.0189},
  {"a":9.5,"yr":"1980","fhi":0.0213,"lo":0.004,"hi":0.0207,"m":0.016},
  {"a":10,"yr":"1980","fhi":0.0182,"lo":0.0025,"hi":0.0175,"m":0.0128},
  {"a":10.5,"yr":"1980","fhi":0.015,"lo":0.0015,"hi":0.0145,"m":0.0096},
  {"a":11,"yr":"1980","fhi":0.0116,"lo":0.0008,"hi":0.011,"m":0.0067},
  {"a":11.5,"yr":"1980","fhi":0.0085,"lo":0.0004,"hi":0.0078,"m":0.0041},
  {"a":12,"yr":"1980","fhi":0.0056,"lo":0.0002,"hi":0.0048,"m":0.002},
  {"a":0,"yr":"2020","fhi":0.0002,"lo":0,"hi":0.0001,"m":0},
  {"a":0.5,"yr":"2020","fhi":0.0003,"lo":0,"hi":0.0001,"m":0},
  {"a":1,"yr":"2020","fhi":0.0005,"lo":0,"hi":0.0002,"m":0.00002},
  {"a":1.5,"yr":"2020","fhi":0.0008,"lo":0,"hi":0.0003,"m":0.00005},
  {"a":2,"yr":"2020","fhi":0.0012,"lo":0,"hi":0.0005,"m":0.0002},
  {"a":2.5,"yr":"2020","fhi":0.0016,"lo":0,"hi":0.0007,"m":0.0003},
  {"a":3,"yr":"2020","fhi":0.002,"lo":0,"hi":0.0009,"m":0.0005},
  {"a":3.5,"yr":"2020","fhi":0.0025,"lo":0,"hi":0.0013,"m":0.0008},
  {"a":4,"yr":"2020","fhi":0.0029,"lo":0,"hi":0.0017,"m":0.0011},
  {"a":4.5,"yr":"2020","fhi":0.0032,"lo":0.0002,"hi":0.0022,"m":0.0015},
  {"a":5,"yr":"2020","fhi":0.0033,"lo":0.0004,"hi":0.0026,"m":0.0019},
  {"a":5.5,"yr":"2020","fhi":0.0033,"lo":0.0007,"hi":0.003,"m":0.0023},
  {"a":6,"yr":"2020","fhi":0.0033,"lo":0.001,"hi":0.0032,"m":0.0027},
  {"a":6.5,"yr":"2020","fhi":0.0033,"lo":0.0016,"hi":0.0033,"m":0.003},
  {"a":7,"yr":"2020","fhi":0.0033,"lo":0.0024,"hi":0.0033,"m":0.0032},
  {"a":7.5,"yr":"2020","fhi":0.0033,"lo":0.002,"hi":0.0033,"m":0.0031},
  {"a":8,"yr":"2020","fhi":0.0033,"lo":0.0015,"hi":0.0033,"m":0.0028},
  {"a":8.5,"yr":"2020","fhi":0.0033,"lo":0.001,"hi":0.0032,"m":0.0024},
  {"a":9,"yr":"2020","fhi":0.0032,"lo":0.0006,"hi":0.003,"m":0.002},
  {"a":9.5,"yr":"2020","fhi":0.003,"lo":0.0004,"hi":0.0026,"m":0.0016},
  {"a":10,"yr":"2020","fhi":0.0027,"lo":0.0002,"hi":0.0022,"m":0.0012},
  {"a":10.5,"yr":"2020","fhi":0.0023,"lo":0.0001,"hi":0.0018,"m":0.0008},
  {"a":11,"yr":"2020","fhi":0.0019,"lo":0,"hi":0.0014,"m":0.0005},
  {"a":11.5,"yr":"2020","fhi":0.0015,"lo":0,"hi":0.001,"m":0.0004},
  {"a":12,"yr":"2020","fhi":0.0011,"lo":0,"hi":0.0007,"m":0.0003}
 ]
},
"vconcat":[
 {"hconcat":[
  {
   "width":1703,"height":931,
   "title":{"text":"A","dy":57},
   "layer":[
    {"data":{"name":"ribbon"},"mark":{"type":"area","color":"#D5DBD9"},
     "encoding":{
      "x":{"field":"yr","type":"quantitative","scale":{"domain":[1978.36,2022.03],"nice":false,"zero":false},"axis":{"orient":"bottom","values":[1980,1990,2000,2010,2020],"format":"d","title":"Year","labelPadding":10}},
      "y":{"field":"lo","type":"quantitative","scale":{"domain":[0.95,32.5],"nice":false,"zero":false},"axis":{"orient":"left","values":[10,20,30],"title":"Mean age (years)","labelPadding":17}},
      "y2":{"field":"hi"}}},
    {"data":{"name":"ribbon"},"mark":{"type":"line","color":"#98A29E","strokeWidth":6.5},
     "encoding":{
      "x":{"field":"yr","type":"quantitative","axis":{"orient":"bottom","values":[1985,1995,2005,2015],"labels":false,"title":null,"gridWidth":1.6}},
      "y":{"field":"m","type":"quantitative","axis":{"orient":"left","values":[5,15,25],"labels":false,"title":null,"gridWidth":1.6}}}},
    {"data":{"name":"ageA"},"mark":{"type":"rule","strokeWidth":4},
     "encoding":{
      "x":{"field":"yr","type":"quantitative","axis":null},
      "y":{"field":"lo","type":"quantitative","axis":{"orient":"right","values":[10,20,30],"title":"Mean age (months)","titleColor":"#FF00FF","labelColor":"#FF00FF","grid":false,"labelPadding":16,"titlePadding":0}},
      "y2":{"field":"hi"},
      "color":{"field":"s","type":"nominal","scale":{"domain":["all cases","infant cases"],"range":["#000000","#FF00FF"]},
       "legend":{"title":null,"orient":"none","legendX":161,"legendY":134,"symbolType":"M0,-1V1M-0.36,0A0.36,0.36,0,1,0,0.36,0A0.36,0.36,0,1,0,-0.36,0M-0.22,0A0.22,0.22,0,1,0,0.22,0A0.22,0.22,0,1,0,-0.22,0M-0.08,0A0.08,0.08,0,1,0,0.08,0A0.08,0.08,0,1,0,-0.08,0","symbolSize":1400,"symbolStrokeWidth":4,"labelFontSize":49,"labelOffset":26,"rowPadding":0}}}},
    {"data":{"name":"ageA"},"mark":{"type":"circle","size":260,"opacity":1},
     "encoding":{
      "x":{"field":"yr","type":"quantitative","axis":null},
      "y":{"field":"v","type":"quantitative","axis":null},
      "fill":{"field":"s","type":"nominal","scale":{"domain":["all cases","infant cases"],"range":["#000000","#FF00FF"]},"legend":null}}}
   ],
   "resolve":{"axis":{"x":"independent","y":"independent"}}
  },
  {
   "width":1823,"height":931,
   "title":{"text":"B","dy":57},
   "data":{"name":"fert"},
   "layer":[
    {"mark":{"type":"line","opacity":0},
     "encoding":{
      "x":{"field":"a","type":"quantitative","scale":{"domain":[13.3,50.7],"nice":false,"zero":false},"axis":{"orient":"bottom","values":[15,25,35,45],"labels":false,"title":null,"gridWidth":1.6}},
      "y":{"field":"f","type":"quantitative","scale":{"domain":[-10.3,211.6],"nice":false,"zero":false},"axis":{"orient":"left","values":[25,75,125,175],"labels":false,"title":null,"gridWidth":1.6}},
      "detail":{"field":"yr","type":"nominal"}}},
    {"mark":{"type":"line","strokeWidth":3.5},
     "encoding":{
      "x":{"field":"a","type":"quantitative","axis":{"orient":"bottom","values":[20,30,40,50],"title":"Age","labelPadding":10}},
      "y":{"field":"f","type":"quantitative","axis":{"orient":"left","values":[0,50,100,150,200],"title":"Fertility rate per 1,000 women","labelPadding":13}},
      "color":{"field":"yr","type":"quantitative","scale":{"domain":[1980,1985,1990,1995,2000,2005,2010,2015,2020],"range":["#1c0a78","#1f1cb0","#2a3fc4","#2b79b0","#30a08a","#3cd666","#5cf03a","#b0f525","#f5f500"]},
       "legend":{"title":"Year","orient":"none","legendX":1272,"legendY":25,"gradientLength":244,"gradientThickness":51,"values":[1980,1990,2000,2010,2020],"format":"d","labelOffset":30,"titlePadding":22,"gradientStrokeWidth":0,"labelOverlap":false,"labelBaseline":"middle","encode":{"labels":{"update":{"baseline":{"value":"middle"}}}}}},
      "detail":{"field":"yr","type":"nominal"}}}
   ],
   "resolve":{"axis":{"x":"independent","y":"independent"}}
  }
 ],"spacing":329,"bounds":"flush",
 "resolve":{"scale":{"color":"independent","fill":"independent"},"legend":{"color":"independent","fill":"independent"}}},
 {"hconcat":[
  {
   "width":1165,"height":1175,
   "title":{"text":"C","dy":58},
   "layer":[
    {"data":{"name":"cC"},"mark":{"type":"line","opacity":0},
     "encoding":{
      "x":{"field":"a","type":"quantitative","scale":{"domain":[-0.6,12.6],"nice":false,"zero":false},"axis":{"orient":"bottom","values":[1.5,4.5,7.5,10.5],"labels":false,"title":null,"gridWidth":1.6}},
      "y":{"field":"v","type":"quantitative","scale":{"domain":[-0.0165,0.3465],"nice":false,"zero":false},"axis":{"orient":"left","values":[0.05,0.15,0.25],"labels":false,"title":null,"gridWidth":1.6}},
      "detail":{"field":"yr","type":"nominal"}}},
    {"data":{"values":[{}]},"mark":{"type":"rule","strokeWidth":5,"strokeDash":[34,13],"color":"#3D4548"},
     "encoding":{"x":{"datum":5.59,"type":"quantitative","axis":null}}},
    {"data":{"values":[{}]},"mark":{"type":"rule","strokeWidth":5,"strokeDash":[50,13],"color":"#F9436F"},
     "encoding":{"x":{"datum":5.96,"type":"quantitative","axis":null}}},
    {"data":{"name":"cC"},"mark":{"type":"line","strokeWidth":5.5},
     "encoding":{
      "x":{"field":"a","type":"quantitative","axis":{"orient":"bottom","values":[0,3,6,9,12],"title":"Age (months)","labelPadding":10}},
      "y":{"field":"v","type":"quantitative","axis":{"orient":"left","values":[0,0.1,0.2,0.3],"format":".1f","title":"Cumulative risk of infection","labelPadding":16}},
      "color":{"field":"yr","type":"nominal","scale":{"domain":["1980","2020"],"range":["#3D4548","#F9436F"]},
       "legend":{"title":"Year","orient":"none","legendX":139,"legendY":90,"symbolType":"M-1,0H1M0,-1V1","symbolSize":1764,"symbolStrokeWidth":5,"labelOffset":35,"titlePadding":18,"rowPadding":6}}}}
   ],
   "resolve":{"axis":{"x":"independent","y":"independent"}}
  },
  {
   "width":1137,"height":1175,
   "title":{"text":"D","dy":77},
   "data":{"name":"dD"},
   "layer":[
    {"transform":[{"filter":"datum.yr=='1980'"}],"mark":{"type":"area","color":"#A4ABAA","opacity":0.07},
     "encoding":{
      "x":{"field":"a","type":"quantitative","scale":{"domain":[-0.6,12.6],"nice":false,"zero":false},"axis":{"orient":"bottom","values":[1.5,4.5,7.5,10.5],"labels":false,"title":null,"gridWidth":1.6}},
      "y":{"field":"fhi","type":"quantitative","scale":{"domain":[-0.05,1.05],"nice":false,"zero":false},"axis":{"orient":"left","values":[0.125,0.375,0.625,0.875],"labels":false,"title":null,"gridWidth":1.6}},
      "y2":{"datum":0}}},
    {"transform":[{"filter":"datum.yr=='2020'"}],"mark":{"type":"area","color":"#F48CA0","opacity":0.05},
     "encoding":{
      "x":{"field":"a","type":"quantitative","axis":null},
      "y":{"field":"fhi","type":"quantitative","axis":null},
      "y2":{"datum":0}}},
    {"transform":[{"filter":"datum.yr=='1980'"}],"mark":{"type":"area","color":"#9EA3A3","opacity":0.55},
     "encoding":{
      "x":{"field":"a","type":"quantitative","axis":{"orient":"bottom","values":[0,3,6,9,12],"title":"Age (months)","labelPadding":10}},
      "y":{"field":"lo","type":"quantitative","axis":{"orient":"left","values":[0,0.25,0.5,0.75,1],"format":".2f","title":"Risk of severe disease given infection","labelPadding":15}},
      "y2":{"field":"hi"}}},
    {"transform":[{"filter":"datum.yr=='2020'"}],"mark":{"type":"area","color":"#F3829B","opacity":0.25},
     "encoding":{
      "x":{"field":"a","type":"quantitative","axis":null},
      "y":{"field":"lo","type":"quantitative","axis":null},
      "y2":{"field":"hi"}}},
    {"mark":{"type":"line","strokeWidth":2.5,"opacity":0.45},
     "encoding":{
      "x":{"field":"a","type":"quantitative","axis":null},
      "y":{"field":"hi","type":"quantitative","axis":null},
      "color":{"field":"yr","type":"nominal","scale":{"domain":["1980","2020"],"range":["#B4BCBA","#F4849C"]},
       "legend":{"title":"Year","orient":"none","legendX":875,"legendY":90,"symbolType":"stroke","symbolSize":1225,"symbolStrokeWidth":5,"symbolOpacity":1,"labelOffset":36,"titlePadding":18,"rowPadding":6}}}},
    {"transform":[{"filter":"datum.yr=='2020'"}],"mark":{"type":"line","color":"#F9436F","strokeWidth":5.5,"interpolate":"monotone"},
     "encoding":{"x":{"field":"a","type":"quantitative","axis":null},"y":{"field":"m","type":"quantitative","axis":null}}},
    {"transform":[{"filter":"datum.yr=='1980'"}],"mark":{"type":"line","color":"#000000","strokeWidth":5.5,"interpolate":"monotone"},
     "encoding":{"x":{"field":"a","type":"quantitative","axis":null},"y":{"field":"m","type":"quantitative","axis":null}}},
    {"data":{"values":[{}]},"mark":{"type":"rule","strokeWidth":5,"strokeDash":[50,13],"color":"#F9436F"},
     "encoding":{"x":{"datum":7.08,"type":"quantitative","axis":null}}},
    {"data":{"values":[{}]},"mark":{"type":"rule","strokeWidth":5,"strokeDash":[28,13],"color":"#000000"},
     "encoding":{"x":{"datum":7.2,"type":"quantitative","axis":null}}}
   ],
   "resolve":{"axis":{"x":"independent","y":"independent"}}
  },
  {
   "width":1139,"height":1175,
   "title":{"text":"E","dy":60},
   "data":{"name":"dE"},
   "layer":[
    {"transform":[{"filter":"datum.yr=='1980'"}],"mark":{"type":"area","color":"#A9B4B0","opacity":0.08},
     "encoding":{
      "x":{"field":"a","type":"quantitative","scale":{"domain":[-0.6,12.6],"nice":false,"zero":false},"axis":{"orient":"bottom","values":[1.5,4.5,7.5,10.5],"labels":false,"title":null,"gridWidth":1.6}},
      "y":{"field":"fhi","type":"quantitative","scale":{"domain":[-0.00158,0.03307],"nice":false,"zero":false},"axis":{"orient":"left","values":[0.005,0.015,0.025],"labels":false,"title":null,"gridWidth":1.6}},
      "y2":{"datum":0}}},
    {"transform":[{"filter":"datum.yr=='2020'"}],"mark":{"type":"area","color":"#F48CA0","opacity":0.15},
     "encoding":{
      "x":{"field":"a","type":"quantitative","axis":null},
      "y":{"field":"fhi","type":"quantitative","axis":null},
      "y2":{"datum":0}}},
    {"transform":[{"filter":"datum.yr=='1980'"}],"mark":{"type":"area","color":"#A9B4B0","opacity":0.75},
     "encoding":{
      "x":{"field":"a","type":"quantitative","axis":{"orient":"bottom","values":[0,3,6,9,12],"title":"Age (months)","labelPadding":10}},
      "y":{"field":"lo","type":"quantitative","axis":{"orient":"left","values":[0,0.01,0.02,0.03],"format":".2f","title":"Risk of severe disease","labelPadding":14}},
      "y2":{"field":"hi"}}},
    {"transform":[{"filter":"datum.yr=='2020'"}],"mark":{"type":"area","color":"#FF6F85","opacity":0.7},
     "encoding":{
      "x":{"field":"a","type":"quantitative","axis":null},
      "y":{"field":"lo","type":"quantitative","axis":null},
      "y2":{"field":"hi"}}},
    {"mark":{"type":"line","strokeWidth":2.5,"opacity":0.45},
     "encoding":{
      "x":{"field":"a","type":"quantitative","axis":null},
      "y":{"field":"hi","type":"quantitative","axis":null},
      "color":{"field":"yr","type":"nominal","scale":{"domain":["1980","2020"],"range":["#B4BCBA","#F77089"]},
       "legend":{"title":"Year","orient":"none","legendX":875,"legendY":90,"symbolType":"stroke","symbolSize":1225,"symbolStrokeWidth":5,"symbolOpacity":1,"labelOffset":36,"titlePadding":18,"rowPadding":6}}}},
    {"transform":[{"filter":"datum.yr=='2020'"}],"mark":{"type":"line","color":"#F9436F","strokeWidth":5.5,"interpolate":"monotone"},
     "encoding":{"x":{"field":"a","type":"quantitative","axis":null},"y":{"field":"m","type":"quantitative","axis":null}}},
    {"transform":[{"filter":"datum.yr=='1980'"}],"mark":{"type":"line","color":"#000000","strokeWidth":5.5,"interpolate":"monotone"},
     "encoding":{"x":{"field":"a","type":"quantitative","axis":null},"y":{"field":"m","type":"quantitative","axis":null}}},
    {"data":{"values":[{}]},"mark":{"type":"rule","strokeWidth":5,"strokeDash":[28,13],"color":"#000000"},
     "encoding":{"x":{"datum":7.02,"type":"quantitative","axis":null}}},
    {"data":{"values":[{}]},"mark":{"type":"rule","strokeWidth":5,"strokeDash":[50,13],"color":"#F9436F"},
     "encoding":{"x":{"datum":7.09,"type":"quantitative","axis":null}}}
   ],
   "resolve":{"axis":{"x":"independent","y":"independent"}}
  }
 ],"spacing":208,"bounds":"flush",
 "resolve":{"scale":{"color":"independent"},"legend":{"color":"independent"}}}
],
"spacing":-10,
"resolve":{"scale":{"color":"independent","fill":"independent"},"legend":{"color":"independent","fill":"independent"}}
}
